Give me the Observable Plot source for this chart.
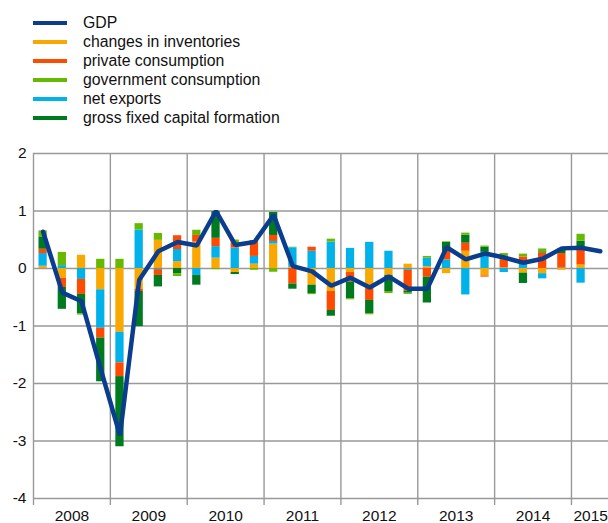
<!DOCTYPE html>
<html><head><meta charset="utf-8">
<script src="https://cdn.jsdelivr.net/npm/d3@7"></script>
<script src="https://cdn.jsdelivr.net/npm/@observablehq/plot@0.6"></script>
<style>
html,body{margin:0;padding:0;background:#fff;overflow:hidden;}
body{font-family:"Liberation Sans",Arial,sans-serif;width:608px;height:523px;position:relative;}
#legend{position:relative;height:140px;}
.row{position:absolute;left:33px;height:19px;display:flex;align-items:center;font-size:15.8px;color:#111;white-space:nowrap;}
.sw{width:34px;height:4px;margin-right:16px;}
</style></head><body>
<div id="legend"></div>
<div id="chart"></div>
<script>
// Quarter labels (x categories)
const quarters = ["2008Q1","2008Q2","2008Q3","2008Q4","2009Q1","2009Q2","2009Q3","2009Q4",
  "2010Q1","2010Q2","2010Q3","2010Q4","2011Q1","2011Q2","2011Q3","2011Q4",
  "2012Q1","2012Q2","2012Q3","2012Q4","2013Q1","2013Q2","2013Q3","2013Q4",
  "2014Q1","2014Q2","2014Q3","2014Q4","2015Q1","2015Q2"];
const years = ["2008","2009","2010","2011","2012","2013","2014","2015"];
const yTicks = [-4,-3,-2,-1,0,1,2];

// GDP (quarter-on-quarter % change)
const gdp = [0.64,-0.42,-0.57,-1.75,-2.9,-0.2,0.3,0.46,
  0.4,1.0,0.41,0.46,0.93,0.04,-0.05,-0.3,
  -0.16,-0.33,-0.14,-0.35,-0.35,0.37,0.16,0.26,
  0.19,0.1,0.17,0.35,0.36,0.3];

// Contributions (percentage points), 2008Q1 .. 2015Q1
const inventories = [0.04,-0.17,0.23,-0.37,-1.11,-0.36,0.49,0.12,
  0.46,0.18,-0.07,0.075,0.425,0.02,-0.29,-0.4,
  -0.07,-0.31,-0.12,0.075,0.03,-0.09,0.3,-0.13,
  0.01,-0.08,-0.09,-0.03,0.06];
const netExports = [0.22,0.05,-0.19,-0.67,-0.53,0.67,-0.02,0.21,
  -0.12,0.2,0.355,0.135,0.045,0.34,0.3,0.46,
  0.35,0.455,0.3,-0.03,0.15,0.15,-0.46,0.28,
  -0.07,0.07,-0.09,0.01,-0.255];
const privateConsumption = [0.075,-0.16,-0.26,-0.17,-0.24,-0.04,-0.1,0.24,
  0.115,0.145,0.09,0.25,0.105,-0.27,0.07,-0.33,
  -0.165,-0.245,0.0,-0.365,-0.15,0.15,0.14,-0.02,
  0.14,0.13,0.27,0.25,0.3];
const gfcf = [0.215,-0.38,-0.34,-0.76,-1.22,-0.61,-0.2,-0.09,
  -0.17,0.465,-0.035,0.02,0.4,-0.09,-0.145,-0.1,
  -0.29,-0.23,-0.28,-0.035,-0.45,0.155,0.14,0.09,
  0.07,-0.18,0.02,0.08,0.115];
const governmentConsumption = [0.105,0.23,-0.02,0.16,0.16,0.11,0.12,-0.05,
  0.09,-0.02,0.05,-0.03,-0.065,0.01,-0.02,0.05,
  -0.02,-0.02,-0.035,-0.02,0.03,0.01,0.035,0.02,
  0.04,0.05,0.05,0.01,0.12];

const C = {
  gdp: "#0b3d8f",
  inv: "#f8a800",
  pc: "#ff4b00",
  gov: "#66b900",
  nx: "#00b1ea",
  gf: "#007a1e"
};

// stacking order (bottom to top)
const stackSeries = [
  {name: "changes in inventories", values: inventories, color: C.inv},
  {name: "net exports", values: netExports, color: C.nx},
  {name: "private consumption", values: privateConsumption, color: C.pc},
  {name: "gross fixed capital formation", values: gfcf, color: C.gf},
  {name: "government consumption", values: governmentConsumption, color: C.gov}
];

// legend
const legendItems = [
  ["GDP", C.gdp], ["changes in inventories", C.inv], ["private consumption", C.pc],
  ["government consumption", C.gov], ["net exports", C.nx], ["gross fixed capital formation", C.gf]
];
const legendCenters = [22.7, 41.8, 61, 80.1, 99.3, 118.4];
const leg = document.getElementById("legend");
legendItems.forEach(([label, color], k) => {
  const r = document.createElement("div");
  r.className = "row";
  r.style.top = (legendCenters[k] - 9.5) + "px";
  r.innerHTML = `<span class="sw" style="background:${color}"></span><span>${label}</span>`;
  leg.appendChild(r);
});

const rows = [];
inventories.forEach((_, i) => {
  stackSeries.forEach(s => rows.push({i, q: quarters[i], series: s.name, value: s.values[i]}));
});
const gdpRows = gdp.map((v, i) => ({i, q: quarters[i], value: v}));

const yearStarts = years.map(y => quarters.findIndex(q => q.startsWith(y)));
const yearCenters = years.map(y => {
  const idx = quarters.map((q, i) => q.startsWith(y) ? i + 0.5 : null).filter(v => v !== null);
  return d3.mean(idx);
});

const grid = "#999999";
const chart = Plot.plot({
  width: 608, height: 383,
  marginTop: 13, marginBottom: 25, marginLeft: 33, marginRight: 0,
  style: {fontFamily: "'Liberation Sans', Arial, sans-serif", fontSize: "15.5px", color: "#111", background: "#fff"},
  x: {domain: [0, quarters.length], range: [33, 609.4], axis: null, label: null},
  y: {domain: [-4, 2], axis: null, label: null},
  color: {domain: stackSeries.map(s => s.name), range: stackSeries.map(s => s.color)},
  marks: [
    Plot.ruleY(yTicks, {stroke: grid, strokeWidth: 1.4}),
    Plot.ruleX(yearStarts, {y1: -4, y2: 2, stroke: grid, strokeWidth: 1.4}),
    Plot.axisX({ticks: yearStarts, tickSize: 7, tickFormat: () => "", label: null, stroke: grid, strokeWidth: 1.4, strokeOpacity: 1}),
    Plot.rectY(rows, {x1: d => d.i + 0.285, x2: d => d.i + 0.715, y: "value", fill: "series"}),
    Plot.line(gdpRows, {x: d => d.i + 0.5, y: "value", stroke: C.gdp, strokeWidth: 4.5, strokeLinejoin: "miter"}),
    Plot.axisY({ticks: yTicks, tickSize: 0, tickPadding: 7, label: null, tickFormat: d => (d < 0 ? "-" : "") + Math.abs(d), fill: "#111"}),
    Plot.axisX({ticks: yearCenters, tickSize: 0, tickPadding: 11, label: null, tickFormat: (d, k) => years[k], fill: "#111"})
  ]
});
document.getElementById("chart").appendChild(chart);
</script>
</body></html>
